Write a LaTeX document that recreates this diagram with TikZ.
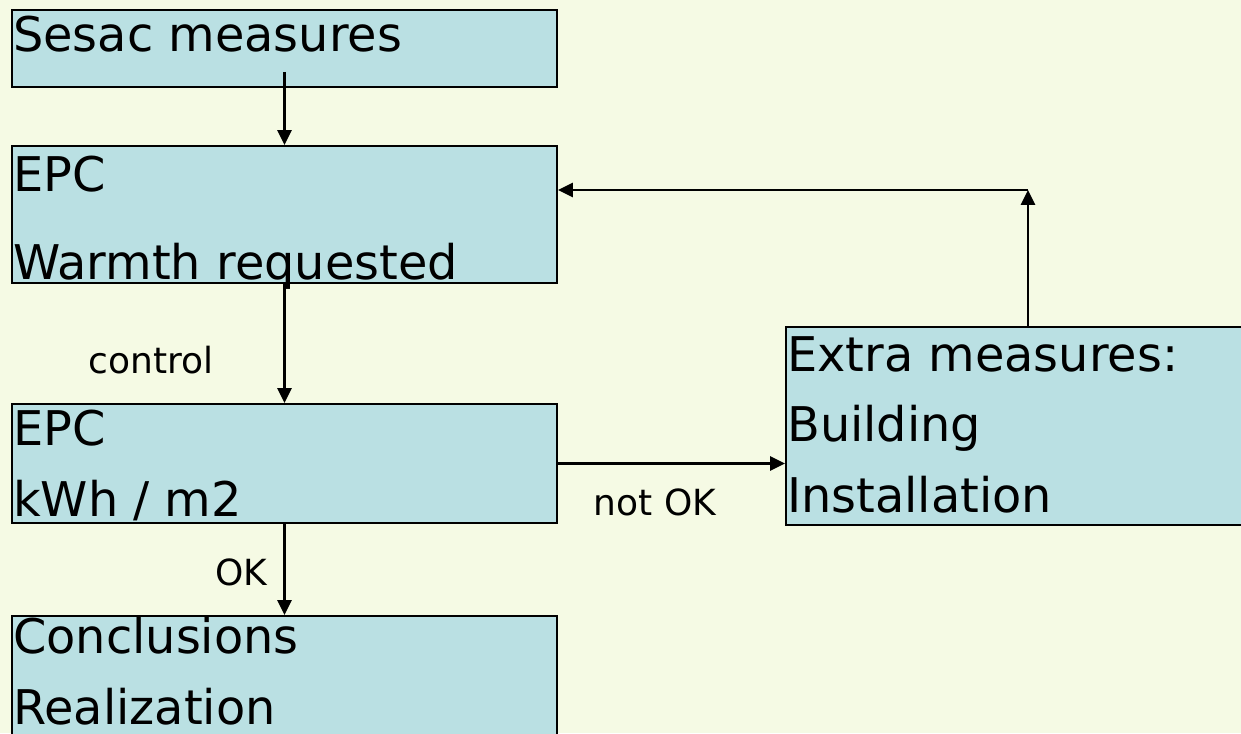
\documentclass[tikz,border=0pt]{standalone}
\usepackage{fontspec}
\setmainfont{DejaVu Sans}
\usetikzlibrary{arrows.meta,calc}
\definecolor{bgyellow}{RGB}{245,250,228}
\definecolor{boxblue}{RGB}{186,224,227}
\begin{document}
\begin{tikzpicture}[x=0.025cm,y=-0.025cm,
    box/.style={draw=black,fill=boxblue,line width=1.4pt,rectangle,inner sep=0pt,minimum width=13.625cm},
    boxtext/.style={anchor=base west,inner sep=0pt,align=left,font=\fontsize{34}{49.8}\selectfont},
    lbl/.style={inner sep=0pt,font=\fontsize{25.6}{30}\selectfont},
    flow/.style={-{Triangle[length=10.5pt,width=10pt]},line width=1.5pt}]
  \clip (0,0) rectangle (1241,733);
  \fill[bgyellow] (0,0) rectangle (1241,733);
  % boxes
  \node[box,minimum height=1.925cm] (sesac) at (284.5,48.5) {};
  \node[box,minimum height=3.425cm] (epcwarmth) at (284.5,214.5) {};
  \node[box,minimum height=2.975cm] (epckwh) at (284.5,463.5) {};
  \node[box,minimum height=3.5cm] (conclusions) at (284.5,686) {};
  \node[box,minimum width=12.1cm,minimum height=4.95cm] (extra) at (1028,426) {};
  % box texts (anchored at the baseline of the last line)
  \node[boxtext] (sesactext) at ($(sesac.north west)+(2,42)$) {Sesac measures};
  \node[boxtext,font=\fontsize{34}{61.9}\selectfont] (epcwarmthtext) at ($(epcwarmth.north west)+(2,134)$) {EPC\\Warmth requested};
  \node[boxtext] (epckwhtext) at ($(epckwh.north west)+(2,113)$) {EPC\\kWh / m2};
  \node[boxtext] (conclusionstext) at ($(conclusions.north west)+(2,109)$) {Conclusions\\Realization};
  \node[boxtext] (extratext) at ($(extra.north west)+(2,186)$) {Extra measures:\\Building\\Installation};
  % connectors
  \draw[flow] ([yshift=0.4cm]sesac.south) -- (epcwarmth.north);
  \draw[flow] (epcwarmth.south) -- (epckwh.north);
  \draw[flow] (epckwh.south) -- (conclusions.north);
  \draw[flow] (epckwh.east) -- (epckwh.east -| extra.west);
  \coordinate (turn) at (1028,190);
  \draw[flow] (extra.north) -- (turn);
  \draw[flow] (turn) -- (turn -| epcwarmth.east);
  % labels
  \node[lbl] (controllbl) at (151,360) {control};
  \node[lbl] (oklbl) at (241,572) {OK};
  \node[lbl] (notoklbl) at (655,502) {not OK};
\end{tikzpicture}
\end{document}
